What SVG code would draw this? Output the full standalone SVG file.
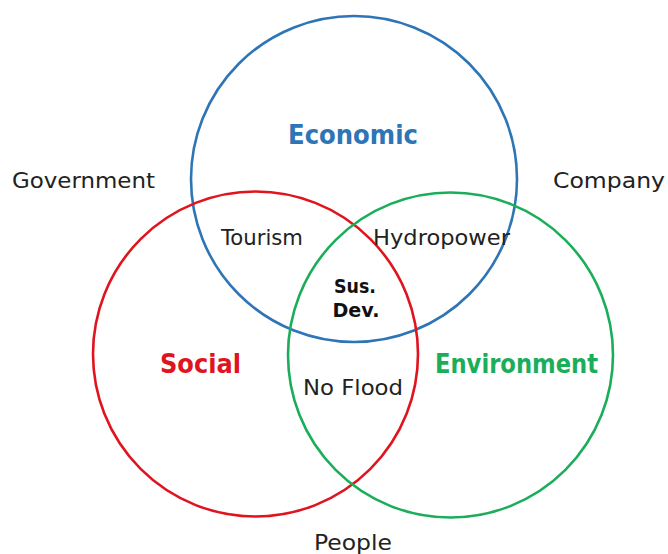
<svg xmlns="http://www.w3.org/2000/svg" width="668" height="554" viewBox="0 0 668 554">
<style>
.c{fill:none;stroke-width:2.6}
.t{font-family:"DejaVu Sans","Liberation Sans",sans-serif;fill:#222;font-size:21px;text-anchor:middle}
.b{font-family:"DejaVu Sans","Liberation Sans",sans-serif;font-weight:bold;text-anchor:middle}
</style>
<rect width="668" height="554" fill="#fff"/>
<g id="economic">
<circle class="c" cx="354" cy="179" r="163" stroke="#2E75B6"/>
<text class="b" x="353" y="144" font-size="26" fill="#2E75B6" textLength="130" lengthAdjust="spacingAndGlyphs">Economic</text>
</g>
<g id="social">
<circle class="c" cx="255.5" cy="354" r="162.5" stroke="#E0141E"/>
<text class="b" x="200.5" y="373" font-size="26" fill="#E0141E" textLength="81" lengthAdjust="spacingAndGlyphs">Social</text>
</g>
<g id="environment">
<circle class="c" cx="450.5" cy="355" r="162.5" stroke="#1BAE5A"/>
<text class="b" x="516.5" y="373" font-size="26" fill="#1BAE5A" textLength="163" lengthAdjust="spacingAndGlyphs">Environment</text>
</g>
<g id="government"><text class="t" x="83.5" y="188" textLength="143" lengthAdjust="spacingAndGlyphs">Government</text></g>
<g id="company"><text class="t" x="609" y="188" textLength="112" lengthAdjust="spacingAndGlyphs">Company</text></g>
<g id="tourism"><text class="t" x="262" y="245" textLength="82" lengthAdjust="spacingAndGlyphs">Tourism</text></g>
<g id="hydropower"><text class="t" x="441.5" y="245" textLength="137" lengthAdjust="spacingAndGlyphs">Hydropower</text></g>
<g id="susdev">
<text class="b" x="355" y="293" font-size="20" fill="#111" textLength="42" lengthAdjust="spacingAndGlyphs">Sus.</text>
<text class="b" x="356" y="317" font-size="20" fill="#111" textLength="47" lengthAdjust="spacingAndGlyphs">Dev.</text>
</g>
<g id="noflood"><text class="t" x="353" y="395" textLength="100" lengthAdjust="spacingAndGlyphs">No Flood</text></g>
<g id="people"><text class="t" x="353" y="550" textLength="78" lengthAdjust="spacingAndGlyphs">People</text></g>
<g id="connectors"></g>
</svg>
